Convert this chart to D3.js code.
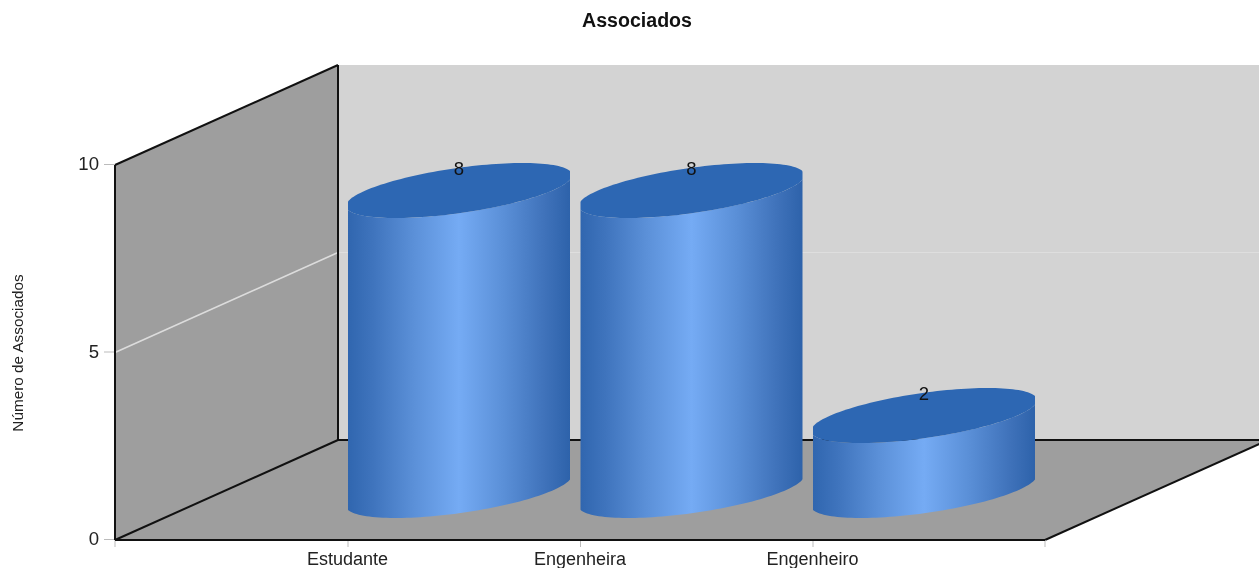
<!DOCTYPE html>
<html><head><meta charset="utf-8">
<script src="https://cdn.jsdelivr.net/npm/d3@7"></script>
<style>html,body{margin:0;padding:0;background:#fff;overflow:hidden}svg{display:block;filter:blur(0.5px)}text{font-family:"Liberation Sans",Arial,sans-serif}</style>
</head><body><svg id="c" width="1259" height="568"></svg>
<script>
const categories = ["Estudante", "Engenheira", "Engenheiro"];
const values = [8, 8, 2];
const yTicks = [0, 5, 10];
const chartTitle = "Associados";
const yTitle = "Número de Associados";

const svg = d3.select("#c");
const x = d3.scalePoint().domain(categories).range([115, 1045]).padding(1);
const y = d3.scaleLinear().domain([0, 10]).range([540, 165]);
const depthX = 223, depthY = 100;
const x0 = 115, x1 = 1045, y0 = y(0), yT = y(10);

const defs = svg.append("defs");
const grad = defs.append("linearGradient").attr("id", "cyl").attr("x1", 0).attr("x2", 1).attr("y1", 0).attr("y2", 0);
[[0, "#2f65ae"], [0.12, "#3f74bd"], [0.3, "#5b90d8"], [0.5, "#75abf4"], [0.7, "#5a8fd7"], [0.88, "#3f72ba"], [1, "#2c61a9"]]
  .forEach(([o, c]) => grad.append("stop").attr("offset", o).attr("stop-color", c));

const poly = pts => "M" + pts.map(p => p.join(",")).join("L") + "Z";
svg.append("path").attr("d", poly([[x0 + depthX, yT - depthY], [1268, yT - depthY], [1268, y0 - depthY], [x0 + depthX, y0 - depthY]])).attr("fill", "#d3d3d3");
svg.append("path").attr("d", poly([[x0, yT], [x0 + depthX, yT - depthY], [x0 + depthX, y0 - depthY], [x0, y0]])).attr("fill", "#9e9e9e");
svg.append("path").attr("d", poly([[x0, y0], [x0 + depthX, y0 - depthY], [x1 + depthX, y0 - depthY], [x1, y0]])).attr("fill", "#9e9e9e");

yTicks.filter(t => t > 0 && t < 10).forEach(t => {
  svg.append("path").attr("d", `M${x0},${y(t)}L${x0 + depthX},${y(t) - depthY}`).attr("stroke", "#dcdcdc").attr("stroke-width", 1.6).attr("fill", "none");
  svg.append("path").attr("d", `M${x0 + depthX},${y(t) - depthY}L1268,${y(t) - depthY}`).attr("stroke", "#dedede").attr("stroke-width", 1).attr("fill", "none");
});

const edge = (a, b) => svg.append("line").attr("x1", a[0]).attr("y1", a[1]).attr("x2", b[0]).attr("y2", b[1]).attr("stroke", "#111").attr("stroke-width", 2);
edge([x0 + depthX, yT - depthY], [x0 + depthX, y0 - depthY]);
edge([x0 + depthX, y0 - depthY], [1268, y0 - depthY]);
edge([x0, yT], [x0 + depthX, yT - depthY]);
edge([x0, y0], [x0 + depthX, y0 - depthY]);
edge([x1, y0], [x1 + depthX, y0 - depthY]);

const xAxis = svg.append("g").attr("transform", `translate(0,${y0})`).call(d3.axisBottom(x).tickSize(7).tickSizeOuter(0));
xAxis.select(".domain").remove();
xAxis.selectAll(".tick line").attr("stroke", "#bbb");
xAxis.selectAll("text").attr("font-size", 18).attr("fill", "#222").attr("x", -0.5).attr("y", 12).attr("dy", "0.71em")
  .attr("textLength", null)
  .attr("font-family", '"Liberation Sans",Arial,sans-serif');
[x0, x1].forEach(px => svg.append("line").attr("x1", px).attr("x2", px).attr("y1", y0).attr("y2", y0 + 7).attr("stroke", "#bbb"));

const yAxis = svg.append("g").attr("transform", `translate(${x0},-1)`).call(d3.axisLeft(y).tickValues(yTicks).tickSize(11).tickFormat(d3.format("d")));
yAxis.select(".domain").remove();
yAxis.selectAll(".tick line").attr("stroke", "#bbb");
yAxis.selectAll("text").attr("font-size", 18.6).attr("fill", "#222").attr("x", -16)
  .attr("font-family", '"Liberation Sans",Arial,sans-serif');

edge([x0, yT], [x0, y0]);
edge([x0, y0], [x1, y0]);

// cylinders: skewed ellipse, trimmed to the column's width
const ux = 93.5, vx = 63.5, vy = -27.5, halfW = 111;
const cxOff = depthX / 2, cyOff = 49.5;
const tLeft = Math.atan2(-vx, -ux);
const ellipse = (cx, cy, t) => [cx + ux * Math.cos(t) + vx * Math.sin(t), cy + vy * Math.sin(t)];
const line = d3.line();
const steps = d3.range(0, 73).map(i => i / 72);

categories.forEach((cat, i) => {
  const cx = x(cat) + cxOff, base = y(0) - cyOff, top = y(values[i]) - cyOff;
  const clipId = "clip" + i;
  defs.append("clipPath").attr("id", clipId).append("rect")
    .attr("x", cx - halfW).attr("width", 2 * halfW).attr("y", 0).attr("height", 568);
  const g = svg.append("g").attr("clip-path", `url(#${clipId})`);
  const lower = steps.map(s => tLeft + s * Math.PI);
  const body = lower.map(t => ellipse(cx, base, t)).concat(lower.slice().reverse().map(t => ellipse(cx, top, t)));
  g.append("path").attr("d", line(body) + "Z").attr("fill", "url(#cyl)");
  const cap = d3.range(0, 145).map(k => ellipse(cx, top, k / 144 * 2 * Math.PI));
  g.append("path").attr("d", line(cap) + "Z").attr("fill", "#2d67b3");
  svg.append("text").attr("x", cx).attr("y", top - 22).attr("dy", "0.35em").attr("text-anchor", "middle")
    .attr("font-size", 18.5).attr("fill", "#111").text(values[i]);
});

svg.append("text").attr("x", 637).attr("y", 27).attr("text-anchor", "middle").attr("font-size", 19.6).attr("font-weight", "bold").attr("fill", "#111").text(chartTitle);
svg.append("text").attr("transform", "translate(18,353) rotate(-90)").attr("dy", "0.35em").attr("text-anchor", "middle").attr("font-size", 15.3).attr("fill", "#222").text(yTitle);
</script></body></html>
